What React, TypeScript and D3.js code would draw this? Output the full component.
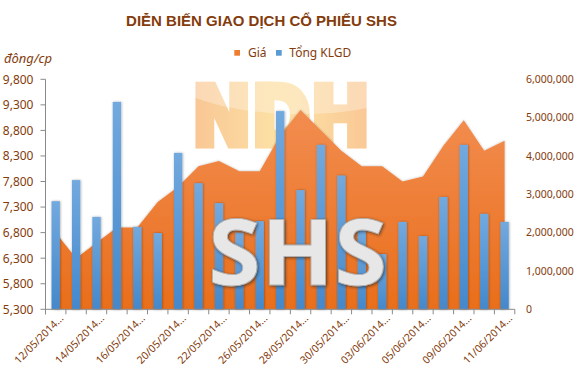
import React from 'react';
import * as d3 from 'd3';

const title = 'DIỄN BIẾN GIAO DỊCH CỔ PHIẾU SHS';
const seriesNames = ['Giá', 'Tổng KLGD'];
const unitLabel = 'đông/cp';

const dates = [
  '12/05/2014', '13/05/2014', '14/05/2014', '15/05/2014', '16/05/2014',
  '19/05/2014', '20/05/2014', '21/05/2014', '22/05/2014', '23/05/2014',
  '26/05/2014', '27/05/2014', '28/05/2014', '29/05/2014', '30/05/2014',
  '02/06/2014', '03/06/2014', '04/06/2014', '05/06/2014', '06/06/2014',
  '09/06/2014', '10/06/2014', '11/06/2014',
];

const prices = [
  6800, 6300, 6600, 6900, 6900, 7400, 7700, 8100, 8200, 8000, 8000, 8700,
  9200, 8800, 8400, 8100, 8100, 7800, 7900, 8500, 9000, 8400, 8600,
];

const volumes = [
  2820000, 3370000, 2410000, 5410000, 2150000, 1990000, 4080000, 3290000,
  2770000, 2000000, 2300000, 5170000, 3110000, 4290000, 3490000, 2150000,
  1440000, 2280000, 1910000, 2930000, 4290000, 2490000, 2280000,
];

const priceTicks = [5300, 5800, 6300, 6800, 7300, 7800, 8300, 8800, 9300, 9800];
const volumeTicks = [0, 1000000, 2000000, 3000000, 4000000, 5000000, 6000000];

const BROWN = '#843C0C';
const AXIS = '#8A8A8A';

export default function App() {
  const W = 577;
  const H = 384;
  const left = 45.5;
  const right = 514.8;
  const top = 79.3;
  const bottom = 309.3;

  const x = d3.scaleBand<string>().domain(dates).range([left, right]).padding(0);
  const bw = x.bandwidth();
  const barW = bw * 0.41;
  const cx = (d: string) => (x(d) as number) + bw / 2;
  const yP = d3.scaleLinear().domain([5300, 9800]).range([bottom, top]);
  const yV = d3.scaleLinear().domain([0, 6000000]).range([bottom, top]);
  const fmt = d3.format(',');

  const areaGen = d3
    .area<number>()
    .x((_, i) => cx(dates[i]))
    .y0(bottom)
    .y1((d) => yP(d));

  const boundaries = dates.map((d) => x(d) as number).concat([right]);

  return (
    <svg
      width={W}
      height={H}
      style={{ position: 'absolute', left: 0, top: 0, background: '#fff' }}
      fontFamily="'Noto Sans', sans-serif"
    >
      <defs>
        <linearGradient id="areaGrad" x1="0" y1="0" x2="0" y2="1">
          <stop offset="0" stopColor="#F28D50" />
          <stop offset="1" stopColor="#E96E1B" />
        </linearGradient>
        <linearGradient id="barGrad" x1="0" y1="0" x2="0" y2="1">
          <stop offset="0" stopColor="#72A9DE" />
          <stop offset="1" stopColor="#4488CB" />
        </linearGradient>
        <linearGradient id="logoGrad" x1="0" y1="0" x2="1" y2="0">
          <stop offset="0" stopColor="#F8BC86" />
          <stop offset="0.45" stopColor="#FCDC9A" />
          <stop offset="0.6" stopColor="#FCDA98" />
          <stop offset="1" stopColor="#F9BE88" />
        </linearGradient>
        <mask id="logoMask" maskUnits="userSpaceOnUse" x="150" y="60" width="260" height="110">
          <rect x={150} y={60} width={260} height={110} fill="#000" />
          <text
            x={281}
            y={144.5}
            textAnchor="middle"
            fontFamily="'DejaVu Sans', sans-serif"
            fontWeight="bold"
            fontSize={82}
            textLength={178}
            lengthAdjust="spacingAndGlyphs"
            fill="#fff"
            stroke="#fff"
            strokeWidth={7}
            strokeLinejoin="miter"
          >
            NDH
          </text>
        </mask>
        <filter id="barShadow" x="-50%" y="-10%" width="200%" height="120%">
          <feDropShadow dx="0.5" dy="0" stdDeviation="1.2" floodColor="#000" floodOpacity="0.35" />
        </filter>
        <filter id="areaShadow" x="-5%" y="-5%" width="110%" height="110%">
          <feDropShadow dx="0" dy="0" stdDeviation="1.2" floodColor="#000" floodOpacity="0.3" />
        </filter>
        <filter id="textShadow" x="-10%" y="-10%" width="120%" height="120%">
          <feDropShadow dx="1" dy="1" stdDeviation="1.6" floodColor="#222" floodOpacity="0.7" />
        </filter>
      </defs>

      {/* title */}
      <text
        x={261.5}
        y={26}
        textAnchor="middle"
        fontFamily="'Liberation Sans', Arial, sans-serif"
        fontWeight="bold"
        fontSize={15}
        fill={BROWN}
      >
        {title}
      </text>

      {/* legend */}
      <rect x={234.3} y={50} width={5.7} height={5.7} fill="#ED7D31" />
      <text x={248} y={56.8} fontSize={12} fill={BROWN}>
        {seriesNames[0]}
      </text>
      <rect x={276} y={50} width={5.7} height={5.7} fill="#5B9BD5" />
      <text x={289.3} y={56.8} fontSize={12} fill={BROWN}>
        {seriesNames[1]}
      </text>

      {/* unit label */}
      <text x={4} y={63} fontSize={13} fontStyle="italic" fill={BROWN}>
        {unitLabel}
      </text>

      {/* NDH watermark logo */}
      <g mask="url(#logoMask)" opacity={0.9}>
        <rect x={180} y={78} width={200} height={74} fill="url(#logoGrad)" />
        <ellipse cx={300} cy={70} rx={135} ry={44} fill="#fff" opacity={0.3} />
      </g>

      {/* price area */}
      <path d={areaGen(prices) || ''} fill="url(#areaGrad)" filter="url(#areaShadow)" />

      {/* volume bars */}
      <g filter="url(#barShadow)">
        {volumes.map((v, i) => (
          <rect
            key={dates[i]}
            x={cx(dates[i]) - barW / 2}
            y={yV(v)}
            width={barW}
            height={bottom - yV(v)}
            fill="url(#barGrad)"
          />
        ))}
      </g>

      {/* SHS watermark text */}
      <text
        x={297.5}
        y={284.5}
        textAnchor="middle"
        fontFamily="'Open Sans', sans-serif"
        fontWeight="bold"
        fontSize={92}
        fill="#E7E7E7"
        stroke="#B0B0B0"
        strokeWidth={0.8}
        filter="url(#textShadow)"
        textLength={179}
        lengthAdjust="spacingAndGlyphs"
      >
        SHS
      </text>

      {/* left axis */}
      <line x1={left} x2={left} y1={top} y2={bottom + 5} stroke={AXIS} strokeWidth={1} />
      {priceTicks.map((t) => (
        <g key={t}>
          <line x1={left - 5} x2={left} y1={yP(t)} y2={yP(t)} stroke={AXIS} />
          <text x={33.5} y={yP(t)} dy="0.36em" textAnchor="end" fontSize={12} fill={BROWN}>
            {fmt(t)}
          </text>
        </g>
      ))}

      {/* right axis labels */}
      {volumeTicks.map((t) => (
        <text key={t} x={526} y={yV(t)} dy="0.36em" textAnchor="start" fontSize={10.5} fill={BROWN}>
          {fmt(t)}
        </text>
      ))}

      {/* bottom axis */}
      <line x1={left} x2={right} y1={bottom} y2={bottom} stroke={AXIS} strokeWidth={1} />
      {boundaries.map((b, i) => (
        <line key={i} x1={b} x2={b} y1={bottom} y2={bottom + 5} stroke={AXIS} />
      ))}
      {dates.map((d, i) =>
        i % 2 === 0 ? (
          <text
            key={d}
            transform={`translate(${cx(d) + 8.5},${319}) rotate(-45)`}
            textAnchor="end"
            fontSize={10.5}
            fill={BROWN}
          >
            {d + '...'}
          </text>
        ) : null
      )}
    </svg>
  );
}
